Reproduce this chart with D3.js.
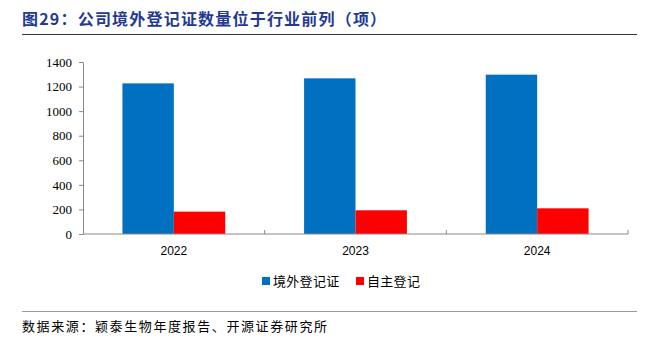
<!DOCTYPE html>
<html><head><meta charset="utf-8">
<script src="https://cdn.jsdelivr.net/npm/d3@7"></script>
<style>body{margin:0;background:#fff}</style>
</head><body>
<script>
const categories = ["2022", "2023", "2024"];
const seriesNames = ["境外登记证", "自主登记"];
const overseas = [1226, 1267, 1297];
const selfReg = [182, 193, 209];
const yTicks = [0, 200, 400, 600, 800, 1000, 1200, 1400];
const colors = ["#0070C0", "#FF0000"];
const titleText = "图29：公司境外登记证数量位于行业前列（项）";
const sourceText = "数据来源：颖泰生物年度报告、开源证券研究所";

const W = 647, H = 343;
const svg = d3.select("body").append("svg").attr("width", W).attr("height", H);

svg.append("text").attr("x", 22).attr("y", 25)
  .attr("font-family", "'Noto Sans CJK SC'").attr("font-weight", "bold")
  .attr("font-size", 16).attr("letter-spacing", 1.2).attr("fill", "#1F3A93").text(titleText);
svg.append("line").attr("x1", 22).attr("x2", 637).attr("y1", 34.5).attr("y2", 34.5)
  .attr("stroke", "#333").attr("stroke-width", 1.2);

const x0 = d3.scaleBand().domain(categories).range([83, 628]).paddingInner(0.434).paddingOuter(0.217);
const x1 = d3.scaleBand().domain(seriesNames).range([0, x0.bandwidth()]);
const y = d3.scaleLinear().domain([0, 1400]).range([234, 62]);

const rows = categories.map((c, i) => ({c, vals: [overseas[i], selfReg[i]]}));
const g = svg.append("g");
g.selectAll("g.grp").data(rows).join("g").attr("class", "grp")
  .attr("transform", d => `translate(${x0(d.c)},0)`)
  .selectAll("rect").data(d => d.vals.map((v, k) => ({v, k})))
  .join("rect")
  .attr("x", d => x1(seriesNames[d.k])).attr("width", x1.bandwidth())
  .attr("y", d => y(d.v)).attr("height", d => y(0) - y(d.v))
  .attr("fill", d => colors[d.k]);

// y axis
const yAxis = svg.append("g").attr("transform", "translate(83,0)")
  .call(d3.axisLeft(y).tickValues(yTicks).tickFormat(d3.format("d")).tickSize(4).tickSizeOuter(0).tickPadding(7));
yAxis.select(".domain").attr("stroke", "#888");
yAxis.selectAll(".tick line").attr("stroke", "#888");
yAxis.selectAll("text").attr("font-family", "'Liberation Serif'").attr("font-size", 13).attr("fill", "#000");

// x axis
const xAxis = svg.append("g").attr("transform", "translate(0,234)")
  .call(d3.axisBottom(x0).tickSize(0).tickPadding(10));
xAxis.select(".domain").attr("stroke", "#888").attr("d", "M83,0H628");
xAxis.selectAll("text").attr("font-family", "'Liberation Sans'").attr("font-size", 12).attr("fill", "#000").attr("dy", "0.9em");
const bounds = categories.map((c, i) => 83 + (i + 1) * (545 / categories.length));
xAxis.selectAll("line.sep").data(bounds).join("line").attr("class", "sep")
  .attr("x1", d => d).attr("x2", d => d).attr("y1", 0).attr("y2", -4).attr("stroke", "#888");

// legend
const leg = svg.append("g");
const legX = [262, 356];
seriesNames.forEach((n, i) => {
  leg.append("rect").attr("x", legX[i]).attr("y", 277).attr("width", 8).attr("height", 8).attr("fill", colors[i]);
  leg.append("text").attr("x", legX[i] + 11).attr("y", 286)
    .attr("font-family", "'Noto Sans CJK SC'").attr("font-size", 13).attr("letter-spacing", 0.3).attr("fill", "#000").text(n);
});

svg.append("line").attr("x1", 22).attr("x2", 637).attr("y1", 311.5).attr("y2", 311.5)
  .attr("stroke", "#999").attr("stroke-width", 1.2);
svg.append("text").attr("x", 22).attr("y", 331)
  .attr("font-family", "'Noto Sans CJK SC'").attr("font-size", 13).attr("letter-spacing", 1.6).attr("fill", "#000").text(sourceText);
</script>
</body></html>
